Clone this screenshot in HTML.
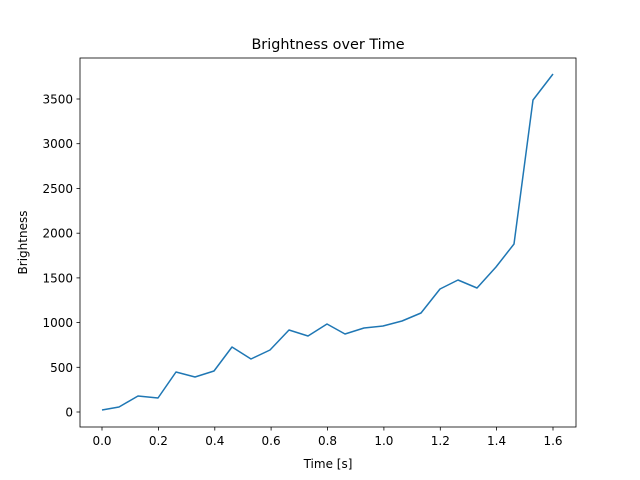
<!DOCTYPE html>
<html><head><meta charset="utf-8"><style>body{margin:0;background:#fff}svg{display:block}</style></head>
<body>
<svg width="640" height="480" viewBox="0 0 640 480" xmlns="http://www.w3.org/2000/svg" font-family="DejaVu Sans, Liberation Sans, sans-serif">
<rect width="640" height="480" fill="#fff"/>
<text x="328" y="49" font-size="14.4" text-anchor="middle">Brightness over Time</text>
<polyline fill="none" stroke="#1f77b4" stroke-width="1.5" stroke-linejoin="round" points="102,410 119,407 138,396 158,398 176,372 195,377 214,371 232,347 251,359 270,350 289,330 308,336 327,324 345,334 364,328 383,326 402,321 421,313 440,289 458,280 477,288 496,267 514,244 533,100 553,74"/>
<rect x="80" y="58" width="496" height="369" fill="none" stroke="#000" stroke-width="0.8"/>
<g stroke="#000" stroke-width="0.8">
<line x1="102" y1="427" x2="102" y2="430.5"/><line x1="158.4" y1="427" x2="158.4" y2="430.5"/><line x1="214.8" y1="427" x2="214.8" y2="430.5"/><line x1="271.1" y1="427" x2="271.1" y2="430.5"/><line x1="327.5" y1="427" x2="327.5" y2="430.5"/><line x1="383.9" y1="427" x2="383.9" y2="430.5"/><line x1="440.3" y1="427" x2="440.3" y2="430.5"/><line x1="496.6" y1="427" x2="496.6" y2="430.5"/><line x1="553" y1="427" x2="553" y2="430.5"/>
<line x1="76.5" y1="412" x2="80" y2="412"/><line x1="76.5" y1="367.3" x2="80" y2="367.3"/><line x1="76.5" y1="322.6" x2="80" y2="322.6"/><line x1="76.5" y1="277.9" x2="80" y2="277.9"/><line x1="76.5" y1="233.2" x2="80" y2="233.2"/><line x1="76.5" y1="188.4" x2="80" y2="188.4"/><line x1="76.5" y1="143.7" x2="80" y2="143.7"/><line x1="76.5" y1="99" x2="80" y2="99"/>
</g>
<g font-size="12" text-anchor="middle">
<text x="102" y="445">0.0</text><text x="158.4" y="445">0.2</text><text x="214.8" y="445">0.4</text><text x="271.1" y="445">0.6</text><text x="327.5" y="445">0.8</text><text x="383.9" y="445">1.0</text><text x="440.3" y="445">1.2</text><text x="496.6" y="445">1.4</text><text x="553" y="445">1.6</text>
</g>
<g font-size="12" text-anchor="end">
<text x="73" y="416.5">0</text><text x="73" y="371.8">500</text><text x="73" y="327.1">1000</text><text x="73" y="282.4">1500</text><text x="73" y="237.7">2000</text><text x="73" y="192.9">2500</text><text x="73" y="148.2">3000</text><text x="73" y="103.5">3500</text>
</g>
<text x="328" y="468" font-size="12" text-anchor="middle">Time [s]</text>
<text x="27" y="242.5" font-size="12" text-anchor="middle" transform="rotate(-90 27 242.5)">Brightness</text>
</svg>
</body></html>
